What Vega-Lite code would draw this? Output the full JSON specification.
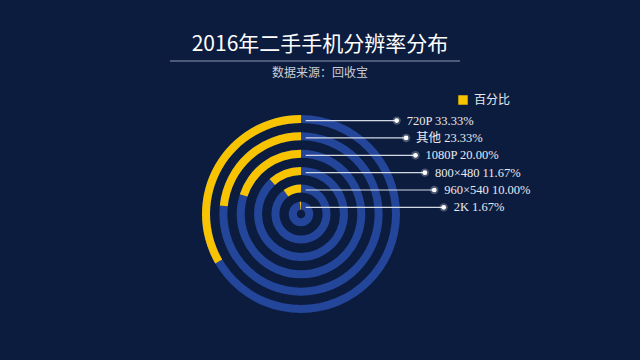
{
  "$schema": "https://vega.github.io/schema/vega-lite/v6.json",
  "autosize": {"type": "none"},
  "width": 200,
  "height": 200,
  "padding": {"left": 201, "top": 114, "right": 239, "bottom": 46},
  "background": "#0c1c3e",
  "config": {"view": {"stroke": null}},
  "title": {
    "text": "2016年二手手机分辨率分布",
    "subtitle": "数据来源：回收宝",
    "anchor": "middle",
    "frame": "group",
    "dx": 19,
    "offset": -19,
    "font": "Noto Sans CJK SC",
    "fontSize": 21,
    "fontWeight": "normal",
    "color": "#ffffff",
    "subtitleFont": "Noto Sans CJK SC",
    "subtitleFontSize": 12,
    "subtitleColor": "#c9ced8",
    "subtitlePadding": 13
  },
  "data": {
    "values": [
      {"ring": 6, "name": "720P", "pct": 33.33},
      {"ring": 5, "name": "其他", "pct": 23.33},
      {"ring": 4, "name": "1080P", "pct": 20.0},
      {"ring": 3, "name": "800×480", "pct": 11.67},
      {"ring": 2, "name": "960×540", "pct": 10.0},
      {"ring": 1, "name": "2K", "pct": 1.67}
    ]
  },
  "layer": [
    {
      "mark": {"type": "arc", "color": "#23469b", "radius2Offset": -8},
      "encoding": {
        "theta": {"datum": 0, "type": "quantitative", "scale": {"domain": [0, 100], "range": [6.283185307179586, 0]}},
        "theta2": {"datum": 100},
        "radius": {"field": "ring", "type": "quantitative", "scale": {"type": "linear", "domain": [0.294, 6], "range": [0, 99], "zero": false, "nice": false}},
        "radius2": {"field": "ring"}
      }
    },
    {
      "mark": {"type": "arc", "radius2Offset": -8},
      "encoding": {
        "theta": {"field": "pct", "type": "quantitative", "stack": null},
        "theta2": {"datum": 0},
        "radius": {"field": "ring", "type": "quantitative"},
        "radius2": {"field": "ring"},
        "color": {
          "datum": "百分比",
          "type": "nominal",
          "scale": {"range": ["#f8c300"]},
          "legend": {
            "title": null,
            "orient": "none",
            "legendX": 256,
            "legendY": -20,
            "symbolType": "square",
            "symbolSize": 90,
            "symbolStrokeWidth": 0,
            "labelColor": "#e6e8ee",
            "labelFont": "Noto Sans CJK SC",
            "labelFontSize": 12,
            "labelOffset": 5
          }
        }
      }
    },
    {
      "data": {"values": [{}]},
      "mark": {"type": "rule", "color": "#8f9bb3", "strokeWidth": 1},
      "encoding": {
        "x": {"datum": 30.12, "type": "quantitative", "scale": {"domain": [5.542, 26.819], "reverse": true, "zero": false, "nice": false}, "axis": null},
        "x2": {"datum": -0.73},
        "y": {"datum": 9.435, "type": "quantitative", "scale": {"domain": [-5.147, 6.38], "zero": false, "nice": false}, "axis": null}
      }
    },
    {
      "mark": {"type": "rule", "color": "#d3d9e4", "strokeWidth": 1.2},
      "encoding": {
        "x": {"field": "ring", "type": "quantitative"},
        "x2": {"datum": 15.68},
        "y": {"field": "ring", "type": "quantitative"}
      }
    },
    {
      "mark": {"type": "circle", "color": "#ffffff", "size": 70, "opacity": 0.25},
      "encoding": {
        "x": {"field": "ring", "type": "quantitative"},
        "y": {"field": "ring", "type": "quantitative"}
      }
    },
    {
      "mark": {"type": "circle", "color": "#ffffff", "size": 22, "opacity": 1},
      "encoding": {
        "x": {"field": "ring", "type": "quantitative"},
        "y": {"field": "ring", "type": "quantitative"}
      }
    },
    {
      "transform": [{"calculate": "datum.name + ' ' + format(datum.pct, '.2f') + '%'", "as": "label"}],
      "mark": {"type": "text", "align": "left", "baseline": "middle", "dx": 10, "font": "Liberation Serif, Noto Sans CJK SC", "fontSize": 12.5, "color": "#e8eaf0"},
      "encoding": {
        "x": {"field": "ring", "type": "quantitative"},
        "y": {"field": "ring", "type": "quantitative"},
        "text": {"field": "label"}
      }
    }
  ]
}
